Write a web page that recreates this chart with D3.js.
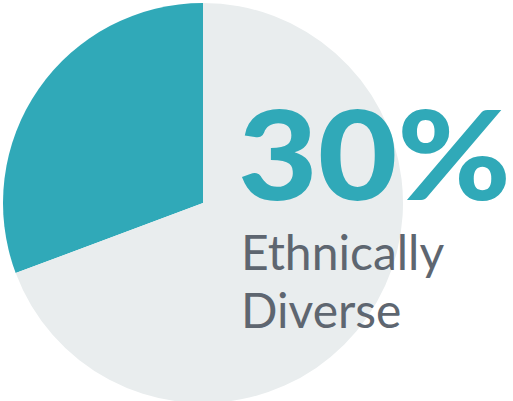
<!DOCTYPE html>
<html>
<head>
<meta charset="utf-8">
<script src="https://cdn.jsdelivr.net/npm/d3@7"></script>
<style>
  html, body { margin: 0; padding: 0; background: #fff; overflow: hidden; }
</style>
</head>
<body>
<div id="chart"></div>
<script>
const categories = ["Ethnically Diverse", "Not Ethnically Diverse"];
const values = [30.7, 69.3];
const colors = ["#30a9b8", "#e9edee"];
const bigLabel = "30%";
const subLabel = ["Ethnically", "Diverse"];

const width = 513;
const height = 401;
const cx = 203, cy = 203, radius = 200;

const svg = d3.select("#chart").append("svg")
    .attr("width", width)
    .attr("height", height);

const pie = d3.pie()
    .sort(null)
    .startAngle(0)
    .endAngle(-2 * Math.PI);

const arc = d3.arc()
    .innerRadius(0)
    .outerRadius(radius);

const color = d3.scaleOrdinal()
    .domain(categories)
    .range(colors);

const slices = pie(values);

svg.append("g")
    .attr("transform", `translate(${cx},${cy})`)
    .selectAll("path")
    .data(slices)
    .enter().append("path")
    .attr("d", arc)
    .attr("fill", (d, i) => color(categories[i]));

// big percentage, stretched to the reference width
svg.append("text")
    .attr("x", 238)
    .attr("y", 200)
    .attr("font-family", "Lato, 'Open Sans', sans-serif")
    .attr("font-weight", 900)
    .attr("font-size", 123)
    .attr("textLength", 273)
    .attr("lengthAdjust", "spacingAndGlyphs")
    .attr("fill", colors[0])
    .text(bigLabel);

const sub = svg.append("g")
    .attr("font-family", "Lato, 'Open Sans', sans-serif")
    .attr("font-weight", 400)
    .attr("font-size", 48)
    .attr("fill", "#5e6670");

sub.selectAll("text")
    .data(subLabel)
    .enter().append("text")
    .attr("x", 241)
    .attr("y", (d, i) => 270 + i * 58)
    .text(d => d);
</script>
</body>
</html>
